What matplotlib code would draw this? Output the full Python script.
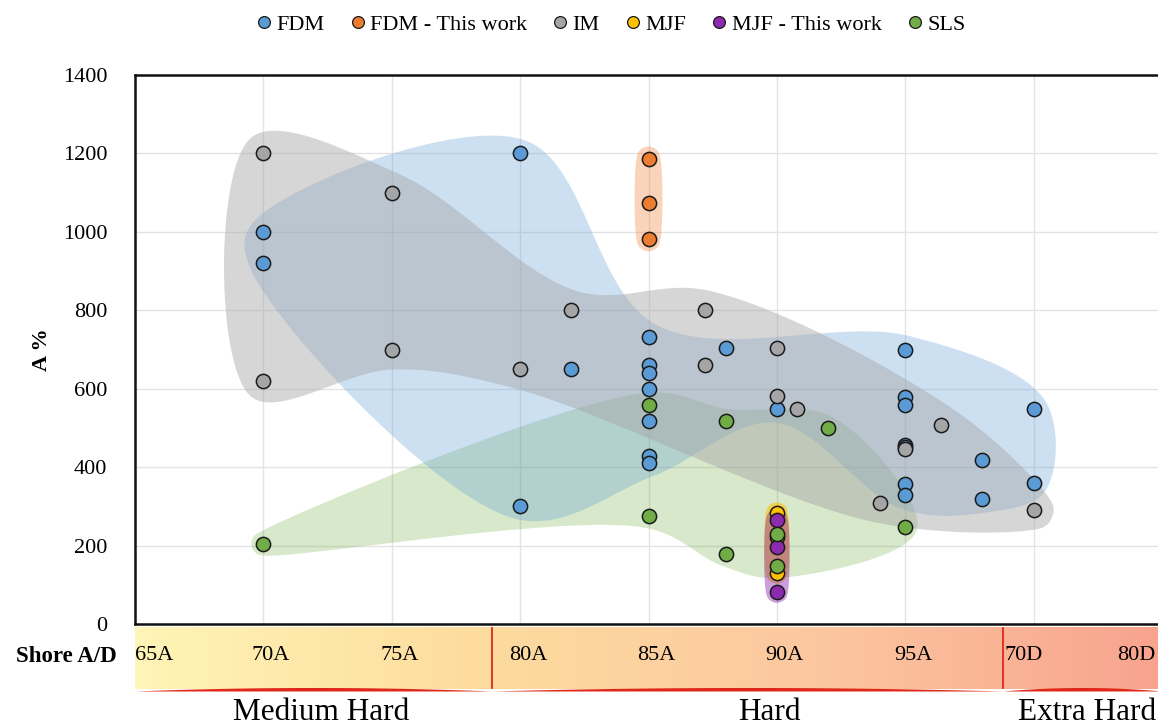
import numpy as np
import matplotlib
matplotlib.use("Agg")
import matplotlib.pyplot as plt
from matplotlib.colors import LinearSegmentedColormap
from matplotlib.lines import Line2D

plt.rcParams['font.family'] = ['Liberation Serif', 'DejaVu Serif']

# values; x is shore hardness on one scale (65A..95A, 70D = 100)
fdm_x = [70, 70, 80, 80, 82, 85, 85, 85, 85, 85, 85, 85, 88, 90, 95, 95, 95, 95, 95, 95, 95, 98, 98, 100, 100]
fdm_y = [1000, 920, 1200, 302, 650, 733, 660, 639, 600, 518, 429, 411, 705, 549, 700, 580, 559, 456, 452, 356, 328, 419, 319, 549, 359]
fdm_hull = [1, 0, 2, 5, 14, 23, 24, 22, 20, 13, 11, 3]

fdm_tw_x = [85, 85, 85]
fdm_tw_y = [1187, 1073, 981]
fdm_tw_hull = [0, 2]

im_x = [70, 70, 75, 75, 80, 82, 87.2, 87.2, 90, 90, 90.8, 94, 95, 96.4, 100]
im_y = [1200, 620, 1100, 700, 650, 800, 800, 660, 705, 581, 549, 309, 445, 507, 291]
im_hull = [1, 0, 2, 5, 6, 13, 14, 11, 4, 3]

mjf_x = [90, 90, 90]
mjf_y = [282, 221, 131]
mjf_hull = [0, 2]

mjf_tw_x = [90, 90, 90]
mjf_tw_y = [265, 196, 82]
mjf_tw_hull = [0, 2]

sls_x = [70, 85, 85, 88, 88, 90, 90, 92, 95]
sls_y = [205, 559, 275, 518, 178, 229, 148, 499, 248]
sls_hull = [0, 1, 3, 7, 8, 6, 4, 2]

shore_labels = ['65A', '70A', '75A', '80A', '85A', '90A', '95A', '70D', '80D']
shore_pos = [65.75, 70.3, 75.3, 80.3, 85.3, 90.3, 95.3, 99.6, 104.0]
classes = ['Medium Hard', 'Hard', 'Extra Hard']
class_edges = [65, 78.9, 98.8, 105]
class_pos = [72.25, 89.7, 102.1]

# name, x, y, hull, marker colour, fill alpha, pad px, fill zorder
groups = [
    ('FDM', fdm_x, fdm_y, fdm_hull, '#5B9BD5', 0.30, 14, 2),
    ('FDM - This work', fdm_tw_x, fdm_tw_y, fdm_tw_hull, '#ED7D31', 0.33, 12, 4),
    ('IM', im_x, im_y, im_hull, '#A5A5A5', 0.45, 20, 3),
    ('MJF', mjf_x, mjf_y, mjf_hull, '#FFC000', 0.6, 11, 5),
    ('MJF - This work', mjf_tw_x, mjf_tw_y, mjf_tw_hull, '#8C2AB0', 0.45, 11, 6),
    ('SLS', sls_x, sls_y, sls_hull, '#70AD47', 0.28, 12, 1),
]


def catmull_rom(ctrl, steps=30):
    # closed centripetal Catmull-Rom spline
    m = len(ctrl)
    out = []
    for i in range(m):
        p0, p1, p2, p3 = ctrl[i - 1], ctrl[i], ctrl[(i + 1) % m], ctrl[(i + 2) % m]
        t0 = 0.0
        t1 = t0 + np.linalg.norm(p1 - p0) ** 0.5
        t2 = t1 + np.linalg.norm(p2 - p1) ** 0.5
        t3 = t2 + np.linalg.norm(p3 - p2) ** 0.5
        t = np.linspace(t1, t2, steps, endpoint=False)[:, None]
        a1 = (t1 - t) / (t1 - t0) * p0 + (t - t0) / (t1 - t0) * p1
        a2 = (t2 - t) / (t2 - t1) * p1 + (t - t1) / (t2 - t1) * p2
        a3 = (t3 - t) / (t3 - t2) * p2 + (t - t2) / (t3 - t2) * p3
        b1 = (t2 - t) / (t2 - t0) * a1 + (t - t0) / (t2 - t0) * a2
        b2 = (t3 - t) / (t3 - t1) * a2 + (t - t1) / (t3 - t1) * a3
        out.append((t2 - t) / (t2 - t1) * b1 + (t - t1) / (t2 - t1) * b2)
    return np.vstack(out)


def blob(ax, xs, ys, hull, pad, color, alpha, z):
    # padded outline round the outer points, worked out in pixels
    pts = ax.transData.transform(np.column_stack([xs, ys]))[hull]
    n = len(pts)
    area = 0.5 * np.sum(pts[:, 0] * np.roll(pts[:, 1], -1) - np.roll(pts[:, 0], -1) * pts[:, 1])
    sgn = -1 if area < 0 else 1
    ctrl = []
    for i in range(n):
        p, a, b = pts[i], pts[i - 1], pts[(i + 1) % n]
        din = (p - a) / np.linalg.norm(p - a)
        dout = (b - p) / np.linalg.norm(b - p)
        nin = sgn * np.array([din[1], -din[0]])
        nout = sgn * np.array([dout[1], -dout[0]])
        turn = sgn * (din[0] * dout[1] - din[1] * dout[0])  # >0 convex
        if din @ dout < -0.6 and turn >= 0 or n == 2:
            a0 = np.arctan2(nin[1], nin[0])
            a1 = np.arctan2(nout[1], nout[0])
            da = (a1 - a0) % (2 * np.pi) if sgn > 0 else -((a0 - a1) % (2 * np.pi))
            if n == 2:
                da = np.pi * sgn
            k = int(np.ceil(abs(da) / np.radians(50)))
            for j in range(k + 1):
                ang = a0 + da * j / k
                ctrl.append(p + pad * np.array([np.cos(ang), np.sin(ang)]))
        else:
            bis = nin + nout
            bis /= np.linalg.norm(bis)
            ctrl.append(p + pad * bis)
    xy = ax.transData.inverted().transform(catmull_rom(np.array(ctrl)))
    ax.fill(xy[:, 0], xy[:, 1], color=color, alpha=alpha, lw=0, zorder=z)


fig = plt.figure(figsize=(11.58, 7.25), dpi=100)
ax = fig.add_axes([135 / 1158, 1 - 624 / 725, 1027 / 1158, 549 / 725])
ax.set_xlim(65, 105)
ax.set_ylim(0, 1400)
ax.set_xticks(range(65, 106, 5))
ax.set_xticklabels([])
ax.set_yticks(range(0, 1401, 200))
ax.tick_params(length=0, labelsize=16, pad=20)
ax.grid(True, color='#E3E3E3', lw=1, zorder=0)
ax.set_axisbelow(True)
for s in ['left', 'top', 'bottom']:
    ax.spines[s].set_linewidth(1.8)
    ax.spines[s].set_color('#111111')
ax.spines['right'].set_visible(False)
ax.set_ylabel('A %', fontweight='bold', fontsize=16, labelpad=8)

for name, xs, ys, hull, mc, al, pad, z in groups:
    blob(ax, xs, ys, hull, pad, mc, al, z)
handles = []
for k, (name, xs, ys, hull, mc, al, pad, z) in enumerate(groups):
    ax.scatter(xs, ys, s=105, color=mc, edgecolor='#1a1a1a', linewidth=1.1, zorder=10 + k)
    handles.append(Line2D([], [], ls='', marker='o', markersize=8.5, markerfacecolor=mc,
                          markeredgecolor='#1a1a1a', markeredgewidth=0.9, label=name))

fig.legend(handles=handles, loc='upper center', bbox_to_anchor=(0.526, 1.008), ncol=6, frameon=False,
           fontsize=16, handletextpad=0.05, columnspacing=1.0, handlelength=1.0)

# shore hardness band under the axis
band = fig.add_axes([135 / 1158, 1 - 691 / 725, 1027 / 1158, 64 / 725])
band.set_xlim(65, 105)
band.set_ylim(0, 1)
band.axis('off')
cmap = LinearSegmentedColormap.from_list('shore', ['#FFF5B6', '#FDDC9E', '#FCC7A0', '#F8A38E'])
band.imshow(np.linspace(0, 1, 256)[None, :], cmap=cmap, extent=(65, 105, 0.03, 1), aspect='auto')
for e in class_edges[1:-1]:
    band.plot([e, e], [0.04, 0.99], color='#E0281A', lw=1.3)
for a, b in zip(class_edges[:-1], class_edges[1:]):
    xx = np.linspace(a, b, 100)
    band.fill_between(xx, 0.0, 0.055 * (1 - ((xx - (a + b) / 2) / ((b - a) / 2)) ** 2),
                      color='#E0281A', lw=0)
for lab, xp in zip(shore_labels, shore_pos):
    band.text(xp, 0.55, lab, ha='center', va='center', fontsize=16)
fig.text(117 / 1158, 1 - 656 / 725, 'Shore A/D', ha='right', va='center', fontsize=16.5, fontweight='bold')
for lab, xp in zip(classes, class_pos):
    band.text(xp, -0.33, lab, ha='center', va='center', fontsize=22.5, clip_on=False)

fig.savefig('out.png', dpi=100)
